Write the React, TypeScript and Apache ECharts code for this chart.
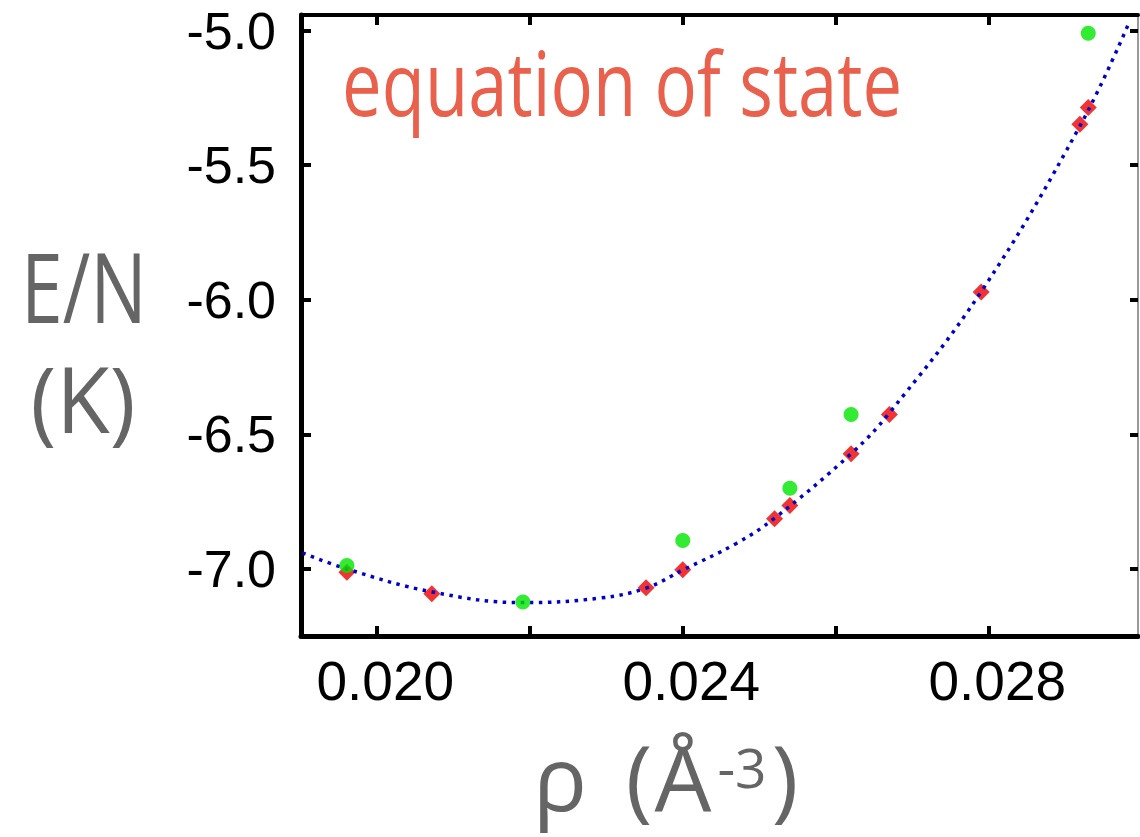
import React, { useEffect, useRef } from "react";
import * as echarts from "echarts";

// ---- data ----
const greenRho = [0.01961, 0.02191, 0.024, 0.0254, 0.0262, 0.0293];
const greenE = [-6.987, -7.123, -6.894, -6.7, -6.426, -5.01];

const redRho = [0.01961, 0.02072, 0.02352, 0.024, 0.0252, 0.0254, 0.0262, 0.0267, 0.0279, 0.02919, 0.0293];
const redE = [-7.012, -7.092, -7.07, -7.003, -6.813, -6.764, -6.572, -6.426, -5.971, -5.348, -5.286];

const fitRho = [0.01903, 0.01961, 0.02072, 0.02191, 0.02292, 0.02352, 0.024, 0.0247, 0.0252, 0.02621, 0.02669, 0.0279, 0.02919, 0.02982];
const fitE = [-6.94, -7.0, -7.085, -7.125, -7.108, -7.071, -7.004, -6.905, -6.811, -6.569, -6.424, -5.97, -5.355, -4.979];

const xTickValues = [0.02, 0.022, 0.024, 0.026, 0.028];
const xLabelValues = [0.02, 0.024, 0.028];
const yTickValues = [-7.0, -6.5, -6.0, -5.5, -5.0];

const X_MIN = 0.01901;
const X_MAX = 0.02995;
const Y_MIN = -7.249;
const Y_MAX = -4.942;

const zip = (xs: number[], ys: number[]) => xs.map((x, i) => [x, ys[i]]);

const TITLE_FONT = '"Open Sans", "Noto Sans", sans-serif';
const TICK_FONT = '"Liberation Sans", Arial, sans-serif';
const GREY = "#656565";

export default function App() {
  const ref = useRef<HTMLDivElement>(null);

  useEffect(() => {
    if (!ref.current) return;
    const chart = echarts.init(ref.current, undefined, { renderer: "svg" });

    const baseX = {
      type: "value" as const,
      min: X_MIN,
      max: X_MAX,
      splitLine: { show: false },
    };
    const baseY = {
      type: "value" as const,
      min: Y_MIN,
      max: Y_MAX,
      splitLine: { show: false },
    };

    chart.setOption({
      animation: false,
      backgroundColor: "#ffffff",
      grid: { left: 301, top: 15, width: 837, height: 621 },
      xAxis: [
        {
          ...baseX,
          position: "bottom",
          axisLine: { show: true, onZero: false, lineStyle: { color: "#000", width: 5 } },
          axisTick: {
            show: true,
            inside: true,
            length: 10,
            customValues: xTickValues,
            lineStyle: { color: "#000", width: 4 },
          },
          axisLabel: {
            show: true,
            customValues: xLabelValues,
            formatter: (v: number) => v.toFixed(3),
            color: "#000",
            fontFamily: TICK_FONT,
            fontSize: 55,
            margin: 17,
            padding: [0, 0, 0, 17],
          },
        },
        {
          ...baseX,
          position: "top",
          axisLine: { show: true, onZero: false, lineStyle: { color: "#000", width: 4 } },
          axisTick: {
            show: true,
            inside: true,
            length: 10,
            customValues: xTickValues,
            lineStyle: { color: "#000", width: 4 },
          },
          axisLabel: { show: false },
        },
      ],
      yAxis: [
        {
          ...baseY,
          position: "left",
          axisLine: { show: true, onZero: false, lineStyle: { color: "#000", width: 5 } },
          axisTick: {
            show: true,
            inside: true,
            length: 10,
            customValues: yTickValues,
            lineStyle: { color: "#000", width: 4 },
          },
          axisLabel: {
            show: true,
            customValues: yTickValues,
            formatter: (v: number) => v.toFixed(1),
            color: "#000",
            fontFamily: TICK_FONT,
            fontSize: 52,
            margin: 25,
          },
        },
        {
          ...baseY,
          position: "right",
          axisLine: { show: true, onZero: false, lineStyle: { color: "#999", width: 2 } },
          axisTick: {
            show: true,
            inside: true,
            length: 8,
            customValues: yTickValues,
            lineStyle: { color: "#000", width: 4 },
          },
          axisLabel: { show: false },
        },
      ],
      series: [
        {
          type: "scatter",
          name: "red",
          xAxisIndex: 0,
          yAxisIndex: 0,
          z: 2,
          symbol: "diamond",
          symbolSize: 17,
          itemStyle: { color: "#ee0000" },
          data: zip(redRho, redE),
        },
        {
          type: "line",
          name: "fit",
          xAxisIndex: 0,
          yAxisIndex: 0,
          z: 3,
          smooth: 0.4,
          symbol: "none",
          lineStyle: { color: "#0000cc", width: 3.5, type: [3.5, 5.5], cap: "butt" },
          data: zip(fitRho, fitE),
        },
        {
          type: "scatter",
          name: "green",
          xAxisIndex: 0,
          yAxisIndex: 0,
          z: 4,
          symbol: "circle",
          symbolSize: 15,
          itemStyle: { color: "#00e600" },
          data: zip(greenRho, greenE),
        },
      ],
      graphic: [
        {
          type: "text",
          x: 342,
          y: 82,
          scaleX: 0.785,
          style: {
            text: "equation of state",
            fill: "#e9604c",
            fontFamily: TITLE_FONT,
            fontSize: 90,
            align: "left",
            verticalAlign: "middle",
          },
        },
        {
          type: "text",
          x: 84,
          y: 285,
          scaleX: 0.775,
          style: {
            text: "E/N",
            fill: GREY,
            fontFamily: TITLE_FONT,
            fontSize: 97,
            align: "center",
            verticalAlign: "middle",
          },
        },
        {
          type: "text",
          x: 83,
          y: 397,
          scaleX: 0.95,
          style: {
            text: "(K)",
            fill: GREY,
            fontFamily: TITLE_FONT,
            fontSize: 92,
            align: "center",
            verticalAlign: "middle",
          },
        },
        {
          type: "text",
          x: 560,
          y: 776,
          style: { text: "ρ", fill: GREY, fontFamily: TITLE_FONT, fontSize: 90, align: "center", verticalAlign: "middle" },
        },
        {
          type: "text",
          x: 639,
          y: 776,
          style: { text: "(", fill: GREY, fontFamily: TITLE_FONT, fontSize: 90, align: "center", verticalAlign: "middle" },
        },
        {
          type: "text",
          x: 683,
          y: 776,
          style: { text: "Å", fill: GREY, fontFamily: TITLE_FONT, fontSize: 90, align: "center", verticalAlign: "middle" },
        },
        {
          type: "text",
          x: 742,
          y: 766,
          style: { text: "-3", fill: GREY, fontFamily: TITLE_FONT, fontSize: 55, align: "center", verticalAlign: "middle" },
        },
        {
          type: "text",
          x: 785,
          y: 776,
          style: { text: ")", fill: GREY, fontFamily: TITLE_FONT, fontSize: 90, align: "center", verticalAlign: "middle" },
        },
      ],
    });

    return () => {
      chart.dispose();
    };
  }, []);

  return (
    <div
      ref={ref}
      style={{ position: "absolute", left: 0, top: 0, width: 1140, height: 837, background: "#fff" }}
    />
  );
}
